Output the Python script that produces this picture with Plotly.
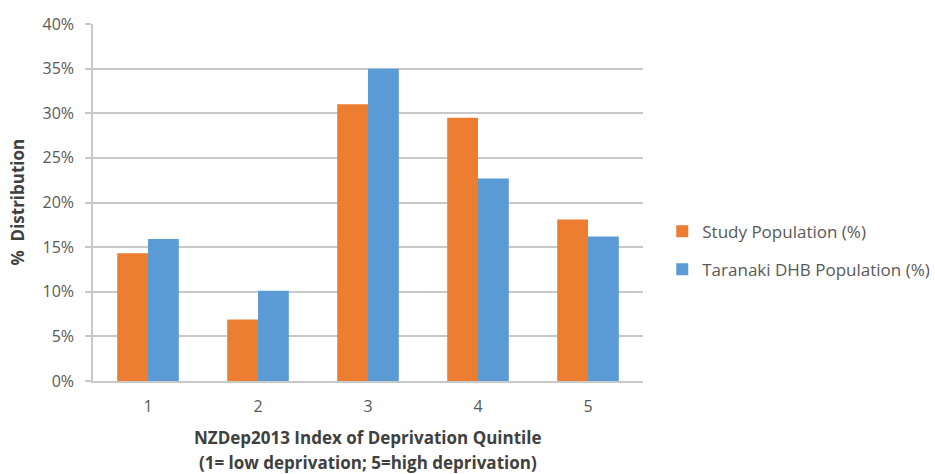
import plotly.graph_objects as go

quintiles = ["1", "2", "3", "4", "5"]
study_pct = [14.3, 6.9, 31.0, 29.5, 18.1]
taranaki_pct = [15.9, 10.1, 35.0, 22.7, 16.2]
y_ticks = [0, 5, 10, 15, 20, 25, 30, 35, 40]
y_tick_text = [f"{v}%" for v in y_ticks]

FONT = "'Open Sans', sans-serif"
GRID = "#C8C8C8"
TEXT = "#595959"
TITLE = "#404040"

fig = go.Figure()
fig.add_trace(go.Bar(x=quintiles, y=study_pct, name="Study Population (%)",
                     marker=dict(color="#ED7D31", line=dict(width=0)),
                     legendgroup="a"))
fig.add_trace(go.Bar(x=quintiles, y=taranaki_pct, name="Taranaki DHB Population (%)",
                     marker=dict(color="#5B9BD5", line=dict(width=0)),
                     legendgroup="b"))

fig.update_layout(
    width=935, height=474,
    margin=dict(l=93, r=292, t=24, b=93, autoexpand=False),
    paper_bgcolor="white", plot_bgcolor="white",
    barmode="group", bargap=0.44, bargroupgap=0,
    font=dict(family=FONT, size=16, color=TEXT),
    legend=dict(x=1.035, y=0.365, xanchor="left", yanchor="middle",
                font=dict(size=17, color=TEXT), tracegroupgap=13,
                itemwidth=30, traceorder="grouped"),
    xaxis=dict(showgrid=False, showline=True, linecolor=GRID, linewidth=1.5,
               ticks="", tickfont=dict(size=16, color=TEXT),
               ticklabelstandoff=10),
    yaxis=dict(range=[0, 40], tickvals=y_ticks, ticktext=y_tick_text,
               showgrid=True, gridcolor=GRID, gridwidth=1.5,
               showline=True, linecolor=GRID, linewidth=1.5,
               ticks="outside", ticklen=6, tickcolor=GRID, tickwidth=1.5,
               tickfont=dict(size=16, color=TEXT), ticklabelstandoff=8,
               zeroline=False),
    annotations=[
        dict(text="<b>% \u00a0Distribution</b>", xref="paper", yref="paper",
             x=-0.138, y=0.5, textangle=-90, showarrow=False,
             font=dict(size=17, color=TITLE), xanchor="center", yanchor="middle"),
        dict(text="<b>NZDep2013 Index of Deprivation Quintile</b>", xref="paper", yref="paper",
             x=0.5, y=-0.158, showarrow=False, xanchor="center", yanchor="middle",
             font=dict(size=17, color=TITLE)),
        dict(text="<b>(1= low deprivation; 5=high deprivation)</b>", xref="paper", yref="paper",
             x=0.5, y=-0.228, showarrow=False, xanchor="center", yanchor="middle",
             font=dict(size=17, color=TITLE)),
    ],
)

fig.write_html("out.html")
